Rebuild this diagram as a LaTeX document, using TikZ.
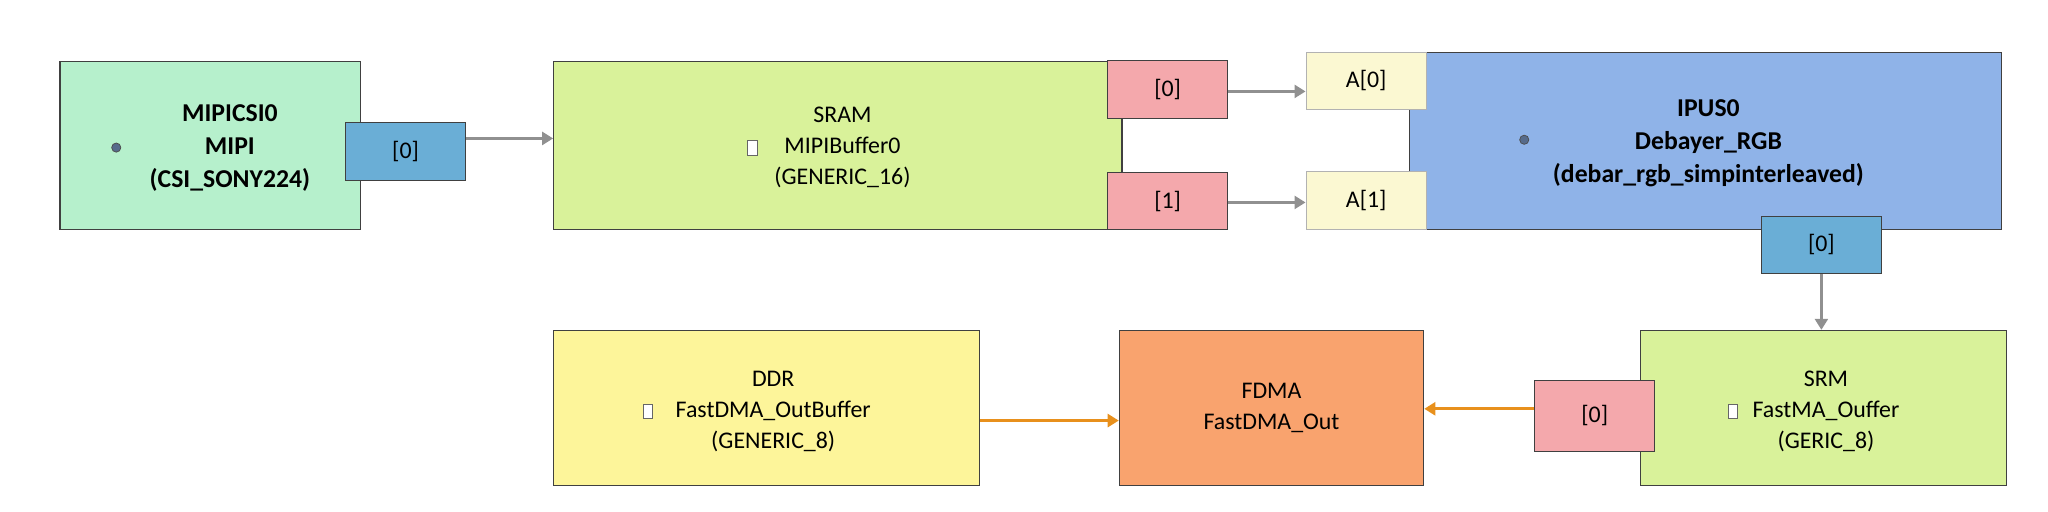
\documentclass[tikz,border=0pt]{standalone}
\usepackage{fontspec}
\setmainfont{Carlito}
\usetikzlibrary{arrows.meta}
\definecolor{mint}{HTML}{B6F0CC}
\definecolor{lime}{HTML}{D9F29A}
\definecolor{portblue}{HTML}{6AAED6}
\definecolor{portred}{HTML}{F4A8AC}
\definecolor{portcream}{HTML}{FBF8D2}
\definecolor{ipublue}{HTML}{8FB3E8}
\definecolor{fdma}{HTML}{F9A36E}
\definecolor{ddr}{HTML}{FDF59A}
\definecolor{wire}{HTML}{909090}
\definecolor{owire}{HTML}{E8901C}
\begin{document}
\begin{tikzpicture}[x=0.025cm, y=-0.025cm, font=\fontsize{13}{17}\selectfont,
  blk/.style={draw=black!75, line width=0.6pt, align=center, inner sep=0pt},
  port/.style={draw=black!75, line width=0.6pt, inner sep=0pt, minimum width=2.3cm, minimum height=1.1cm},
  conn/.style={wire, line width=1.6pt, -{Triangle[length=6pt,width=7pt]}},
  oconn/.style={owire, line width=1.6pt, -{Triangle[length=6pt,width=7pt]}},
  gear/.style={circle, draw=black!70, fill=ipublue!60!black, inner sep=0pt, minimum size=5pt},
  buf/.style={draw=black!60, fill=white, inner sep=0pt, minimum width=5pt, minimum height=8pt}]
\useasboundingbox (0,0) rectangle (1568,392);
% top row
\node[blk, fill=mint, minimum width=5.75cm, minimum height=3.225cm] (mipi) at (161,111.5) {};
\node[font=\fontsize{14}{18}\selectfont\bfseries, align=center] (mipitxt) at (176,113) {MIPICSI0\\MIPI\\(CSI\_SONY224)};
\node[gear] (mipigear) at (89,113) {};
\node[port, fill=portblue] (mipiout) at (310.5,116) {[0]};
\node[blk, fill=lime, minimum width=10.875cm, minimum height=3.225cm] (sram) at (641.5,111.5) {};
\node[align=center] (sramtxt) at (645,113) {SRAM\\MIPIBuffer0\\(GENERIC\_16)};
\node[buf] (srambuf) at (576,113) {};
\node[port, fill=portred] (sramo0) at (894,68.5) {[0]};
\node[port, fill=portred] (sramo1) at (894,154) {[1]};
\node[blk, fill=ipublue, minimum width=11.325cm, minimum height=3.4cm] (ipu) at (1305.5,108) {};
\node[font=\fontsize{14}{18}\selectfont\bfseries, align=center] (iputxt) at (1308,110) {IPUS0\\Debayer\_RGB\\(debar\_rgb\_simpinterleaved)};
\node[gear] (ipugear) at (1167,107) {};
\node[port, fill=portcream, draw=black!30] (ipua0) at (1046,62) {A[0]};
\node[port, fill=portcream, draw=black!30] (ipua1) at (1046,153.5) {A[1]};
\node[port, fill=portblue] (ipuout) at (1394.5,187.5) {[0]};
% bottom row
\node[blk, fill=lime, minimum width=7cm, minimum height=2.975cm] (srm) at (1396,312.5) {};
\node[align=center] (srmtxt) at (1398,315) {SRM\\FastMA\_Ouffer\\(GERIC\_8)};
\node[buf] (srmbuf) at (1327,315) {};
\node[port, fill=portred, minimum height=1.375cm] (srmout) at (1221,318.5) {[0]};
\node[blk, fill=fdma, minimum width=5.825cm, minimum height=2.975cm] (fdma) at (973.5,312.5) {FDMA\\FastDMA\_Out};
\node[blk, fill=ddr, minimum width=8.15cm, minimum height=2.975cm] (ddr) at (587,312.5) {};
\node[align=center] (ddrtxt) at (592,315) {DDR\\FastDMA\_OutBuffer\\(GENERIC\_8)};
\node[buf] (ddrbuf) at (496,315) {};
% connectors
\draw[conn] (mipiout.east |- 0,106) -- (sram.west |- 0,106);
\draw[conn] (sramo0.east |- 0,70) -- (ipua0.west |- 0,70);
\draw[conn] (sramo1.east |- 0,155) -- (ipua1.west |- 0,155);
\draw[conn] (ipuout.south) -- (ipuout.south |- srm.north);
\draw[oconn] (srmout.west |- 0,313) -- (fdma.east |- 0,313);
\draw[oconn] (ddr.east |- 0,322) -- (fdma.west |- 0,322);
\end{tikzpicture}
\end{document}
